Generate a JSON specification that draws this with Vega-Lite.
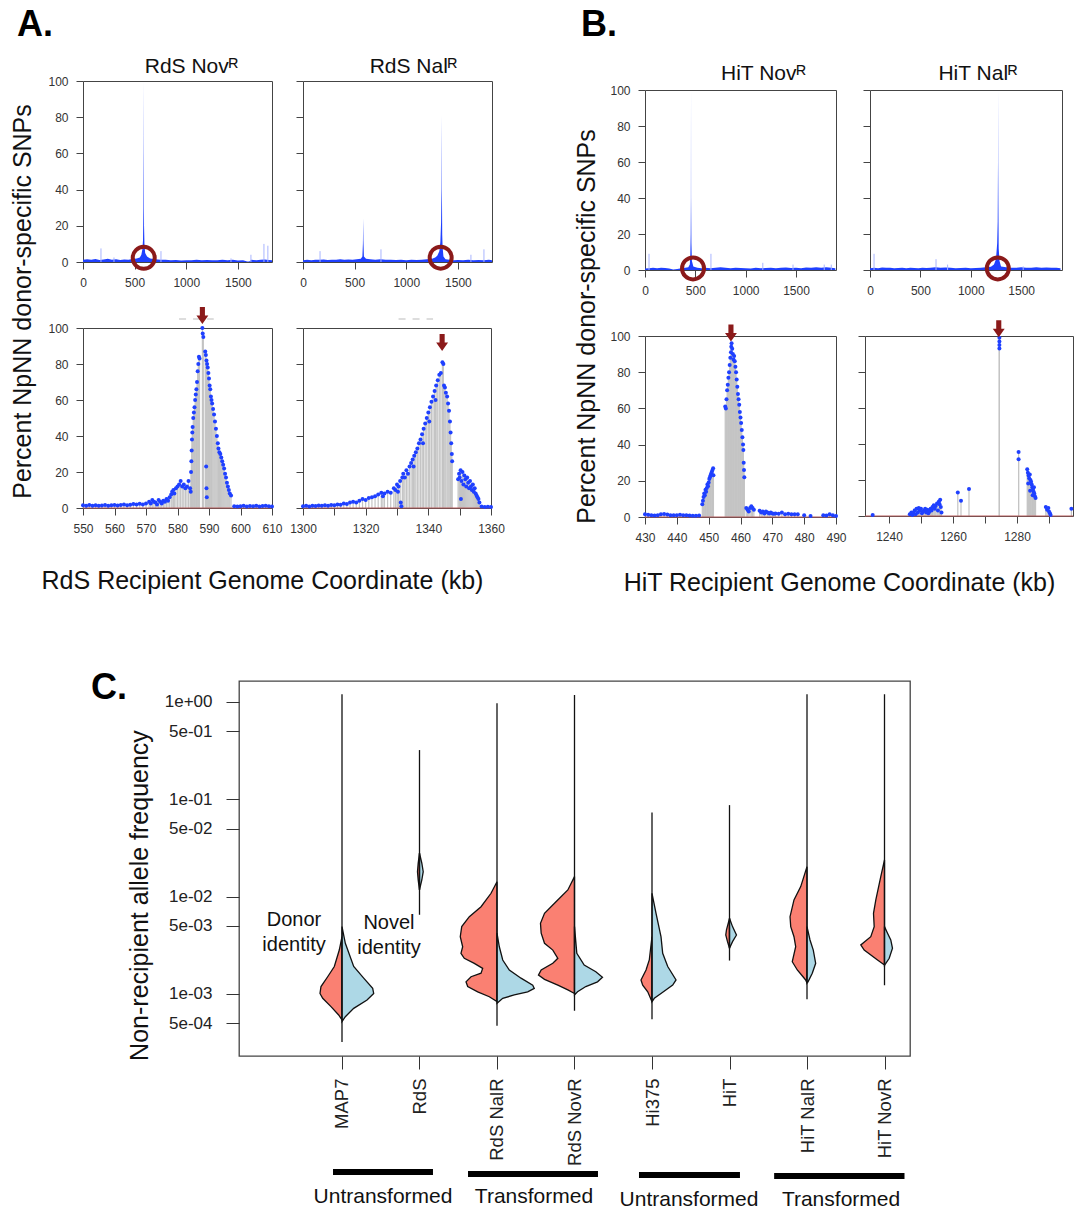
{
"$schema":"https://vega.github.io/schema/vega-lite/v6.json",
"background":"white",
"padding":{"left":9,"top":7,"right":0,"bottom":0},
"autosize":{"type":"pad"},
"config":{
 "font":"Liberation Sans",
 "view":{"stroke":"#444444","strokeWidth":1},
 "axis":{"grid":false,"domain":false,"ticks":true,"tickColor":"#444444","tickSize":7,"tickWidth":1,"labelPadding":8,"labelFontSize":12,"labelColor":"#333333","labelFont":"Liberation Sans","titleFont":"Liberation Sans","titleFontWeight":"normal","titleColor":"#111111","labelFlush":false,"labelOverlap":false,"format":"d"},
 "title":{"font":"Liberation Sans","fontWeight":"normal","fontSize":21,"color":"#111111","baseline":"alphabetic"}
},
"datasets":{
 "ovA1":[{"k":0,"v":1.2},{"k":40,"v":1.5},{"k":80,"v":1.3},{"k":120,"v":1.6},{"k":160,"v":1.1},{"k":200,"v":1.4},{"k":240,"v":1.8},{"k":280,"v":1.2},{"k":320,"v":1.5},{"k":360,"v":1.1},{"k":400,"v":1.4},{"k":440,"v":1.2},{"k":480,"v":1.6},{"k":520,"v":2.0},{"k":550,"v":2.5},{"k":565,"v":4},{"k":575,"v":7},{"k":581,"v":12},{"k":585,"v":30},{"k":587,"v":70},{"k":588,"v":100},{"k":589,"v":60},{"k":591,"v":20},{"k":595,"v":10},{"k":602,"v":5},{"k":620,"v":3},{"k":650,"v":2},{"k":700,"v":1.5},{"k":750,"v":1.3},{"k":800,"v":1.2},{"k":850,"v":1.0},{"k":900,"v":1.1},{"k":950,"v":0.8},{"k":1000,"v":1.0},{"k":1050,"v":0.9},{"k":1100,"v":1.2},{"k":1150,"v":1.0},{"k":1200,"v":1.1},{"k":1250,"v":0.9},{"k":1300,"v":1.0},{"k":1350,"v":1.2},{"k":1400,"v":1.0},{"k":1450,"v":1.3},{"k":1500,"v":0.8},{"k":1550,"v":1.0},{"k":1590,"v":0.3},{"k":1610,"v":0.3},{"k":1630,"v":1.2},{"k":1680,"v":1.0},{"k":1720,"v":1.2},{"k":1760,"v":1.4},{"k":1800,"v":1.1},{"k":1830,"v":1.0}],
 "spA1":[{"k":174,"v":7.5},{"k":300,"v":2.5},{"k":755,"v":6},{"k":1433,"v":2},{"k":1626,"v":4},{"k":1752,"v":10},{"k":1790,"v":9}],
 "ovA2":[{"k":0,"v":1.0},{"k":40,"v":1.2},{"k":80,"v":1.0},{"k":120,"v":1.3},{"k":160,"v":1.2},{"k":200,"v":1.4},{"k":240,"v":1.1},{"k":280,"v":1.3},{"k":320,"v":1.2},{"k":360,"v":1.5},{"k":400,"v":1.2},{"k":440,"v":1.4},{"k":480,"v":1.3},{"k":520,"v":1.5},{"k":560,"v":1.8},{"k":575,"v":3},{"k":580,"v":10},{"k":583,"v":24},{"k":585,"v":12},{"k":590,"v":3},{"k":610,"v":1.8},{"k":650,"v":1.5},{"k":700,"v":1.3},{"k":750,"v":1.5},{"k":800,"v":1.2},{"k":850,"v":1.3},{"k":900,"v":1.1},{"k":950,"v":1.2},{"k":1000,"v":1.0},{"k":1050,"v":1.2},{"k":1100,"v":1.1},{"k":1150,"v":1.3},{"k":1200,"v":1.5},{"k":1250,"v":1.8},{"k":1280,"v":2.5},{"k":1300,"v":3.5},{"k":1320,"v":6},{"k":1330,"v":11},{"k":1337,"v":22},{"k":1341,"v":40},{"k":1343,"v":81},{"k":1345,"v":40},{"k":1348,"v":15},{"k":1352,"v":8},{"k":1360,"v":3},{"k":1380,"v":1.5},{"k":1420,"v":1.2},{"k":1460,"v":1.0},{"k":1500,"v":1.1},{"k":1550,"v":1.0},{"k":1600,"v":1.2},{"k":1650,"v":1.0},{"k":1700,"v":1.1},{"k":1750,"v":1.0},{"k":1800,"v":1.2},{"k":1830,"v":1.0}],
 "spA2":[{"k":165,"v":6},{"k":755,"v":7},{"k":1626,"v":4},{"k":1752,"v":7}],
 "ovB1":[{"k":0,"v":0.8},{"k":40,"v":1.0},{"k":80,"v":1.2},{"k":120,"v":1.0},{"k":160,"v":1.3},{"k":200,"v":1.1},{"k":240,"v":0.8},{"k":280,"v":0.3},{"k":320,"v":0.5},{"k":360,"v":1.0},{"k":400,"v":1.2},{"k":430,"v":1.5},{"k":445,"v":3},{"k":450,"v":8},{"k":454,"v":20},{"k":456,"v":40},{"k":457,"v":100},{"k":458,"v":40},{"k":461,"v":15},{"k":466,"v":5},{"k":480,"v":2},{"k":520,"v":1.3},{"k":560,"v":1.0},{"k":600,"v":1.2},{"k":650,"v":1.0},{"k":700,"v":1.3},{"k":750,"v":1.5},{"k":800,"v":1.2},{"k":850,"v":1.0},{"k":900,"v":1.3},{"k":950,"v":1.1},{"k":1000,"v":1.0},{"k":1050,"v":0.8},{"k":1100,"v":1.2},{"k":1150,"v":1.0},{"k":1200,"v":1.1},{"k":1250,"v":1.3},{"k":1300,"v":1.0},{"k":1350,"v":1.2},{"k":1400,"v":1.4},{"k":1450,"v":1.1},{"k":1500,"v":1.3},{"k":1550,"v":1.0},{"k":1600,"v":1.4},{"k":1650,"v":1.2},{"k":1700,"v":1.5},{"k":1750,"v":1.3},{"k":1800,"v":1.5},{"k":1850,"v":1.2},{"k":1890,"v":1.0}],
 "spB1":[{"k":40,"v":9},{"k":655,"v":9},{"k":1170,"v":4},{"k":1470,"v":3},{"k":1780,"v":3},{"k":1850,"v":3}],
 "ovB2":[{"k":0,"v":1.0},{"k":40,"v":1.2},{"k":80,"v":1.0},{"k":120,"v":1.4},{"k":160,"v":1.2},{"k":200,"v":1.3},{"k":240,"v":1.0},{"k":280,"v":1.1},{"k":320,"v":1.3},{"k":360,"v":1.0},{"k":400,"v":1.2},{"k":440,"v":1.1},{"k":480,"v":1.0},{"k":520,"v":1.2},{"k":560,"v":1.1},{"k":600,"v":1.3},{"k":650,"v":1.5},{"k":700,"v":1.2},{"k":750,"v":1.4},{"k":800,"v":1.2},{"k":850,"v":1.0},{"k":900,"v":1.1},{"k":950,"v":1.2},{"k":1000,"v":1.0},{"k":1050,"v":1.1},{"k":1100,"v":1.3},{"k":1150,"v":1.5},{"k":1200,"v":1.8},{"k":1230,"v":3},{"k":1250,"v":6},{"k":1262,"v":15},{"k":1267,"v":27},{"k":1270,"v":60},{"k":1271,"v":100},{"k":1272,"v":60},{"k":1274,"v":37},{"k":1277,"v":12},{"k":1285,"v":5},{"k":1300,"v":2},{"k":1350,"v":1.5},{"k":1400,"v":1.3},{"k":1450,"v":1.2},{"k":1500,"v":1.5},{"k":1550,"v":1.3},{"k":1600,"v":1.2},{"k":1650,"v":1.5},{"k":1700,"v":1.3},{"k":1750,"v":1.4},{"k":1800,"v":1.2},{"k":1850,"v":1.3},{"k":1890,"v":1.0}],
 "spB2":[{"k":40,"v":9},{"k":655,"v":6},{"k":770,"v":3},{"k":1150,"v":3},{"k":1520,"v":2}],
 "zA1":[{"k":550,"v":1.5},{"k":551,"v":1.2},{"k":552,"v":1.6},{"k":553,"v":1.3},{"k":554,"v":1.5},{"k":555,"v":1.2},{"k":556,"v":1.4},{"k":557,"v":1.6},{"k":558,"v":1.3},{"k":559,"v":1.5},{"k":560,"v":1.7},{"k":561,"v":1.4},{"k":562,"v":1.6},{"k":563,"v":2.0},{"k":564,"v":1.5},{"k":565,"v":1.8},{"k":566,"v":2.2},{"k":567,"v":1.9},{"k":568,"v":2.3},{"k":569,"v":2.0},{"k":570,"v":2.5},{"k":571,"v":3.5},{"k":571.5,"v":2.5},{"k":572,"v":4.5},{"k":572.5,"v":3.5},{"k":573,"v":3},{"k":573.5,"v":2},{"k":574,"v":4.5},{"k":574.5,"v":3.5},{"k":575,"v":2.5},{"k":575.5,"v":4},{"k":576,"v":3.5},{"k":576.5,"v":5},{"k":577,"v":4},{"k":577.5,"v":6},{"k":578,"v":7.5},{"k":578.3,"v":9},{"k":578.7,"v":10},{"k":579,"v":8},{"k":579.5,"v":11},{"k":580,"v":12},{"k":580.5,"v":13},{"k":581,"v":15},{"k":581.5,"v":12},{"k":582,"v":13},{"k":582.5,"v":11},{"k":583,"v":12},{"k":583.5,"v":15},{"k":584,"v":11},{"k":584.2,"v":9},{"k":584.3,"v":20},{"k":584.4,"v":26},{"k":584.5,"v":32},{"k":584.6,"v":38},{"k":584.7,"v":42},{"k":584.8,"v":45},{"k":585,"v":50},{"k":585.2,"v":53},{"k":585.4,"v":56},{"k":585.6,"v":60},{"k":585.8,"v":63},{"k":586,"v":66},{"k":586.2,"v":70},{"k":586.4,"v":76},{"k":586.6,"v":80},{"k":586.8,"v":84},{"k":587,"v":83},{"k":587.9,"v":100},{"k":588,"v":97},{"k":588.2,"v":95},{"k":588.8,"v":87},{"k":589,"v":85},{"k":589.2,"v":82},{"k":589.4,"v":80},{"k":589.6,"v":78},{"k":589.8,"v":75},{"k":590,"v":72},{"k":590.2,"v":68},{"k":590.4,"v":66},{"k":590.6,"v":62},{"k":590.8,"v":60},{"k":591,"v":58},{"k":591.3,"v":55},{"k":591.6,"v":52},{"k":591.9,"v":48},{"k":592.2,"v":44},{"k":592.5,"v":40},{"k":592.8,"v":36},{"k":593,"v":33},{"k":593.3,"v":31},{"k":593.6,"v":30},{"k":593.9,"v":28},{"k":594.2,"v":26},{"k":594.5,"v":24},{"k":594.8,"v":22},{"k":595.1,"v":19},{"k":595.4,"v":17},{"k":595.7,"v":14},{"k":596,"v":12},{"k":596.3,"v":10},{"k":596.6,"v":8},{"k":597,"v":7},{"k":589.1,"v":23},{"k":589.2,"v":11},{"k":589.3,"v":6},{"k":598,"v":1.0},{"k":599,"v":0.8},{"k":600,"v":1.0},{"k":601,"v":1.2},{"k":602,"v":0.9},{"k":603,"v":1.1},{"k":604,"v":1.0},{"k":605,"v":1.2},{"k":606,"v":0.9},{"k":607,"v":1.1},{"k":608,"v":1.3},{"k":609,"v":1.0},{"k":610,"v":0.8}],
 "zA2":[{"k":1300,"v":1.0},{"k":1301,"v":1.2},{"k":1302,"v":0.9},{"k":1303,"v":1.3},{"k":1304,"v":1.1},{"k":1305,"v":1.4},{"k":1306,"v":1.2},{"k":1307,"v":1.5},{"k":1308,"v":1.3},{"k":1309,"v":1.7},{"k":1310,"v":1.5},{"k":1311,"v":2.0},{"k":1312,"v":1.8},{"k":1313,"v":2.5},{"k":1314,"v":2.2},{"k":1315,"v":3.0},{"k":1316,"v":3.5},{"k":1317,"v":3.0},{"k":1318,"v":4.0},{"k":1319,"v":5.0},{"k":1320,"v":4.5},{"k":1321,"v":5.5},{"k":1322,"v":6.0},{"k":1323,"v":6.5},{"k":1324,"v":7.5},{"k":1325,"v":8.5},{"k":1325.5,"v":6.5},{"k":1326,"v":8.0},{"k":1327,"v":9.0},{"k":1328,"v":8.5},{"k":1329,"v":11},{"k":1329.5,"v":10},{"k":1330,"v":13},{"k":1330.3,"v":9},{"k":1330.5,"v":12},{"k":1331,"v":15},{"k":1331.2,"v":3},{"k":1331.4,"v":1},{"k":1331.7,"v":17},{"k":1332,"v":19},{"k":1332.5,"v":17},{"k":1333,"v":21},{"k":1333.5,"v":19},{"k":1334,"v":23},{"k":1334.5,"v":25},{"k":1335,"v":27},{"k":1335.3,"v":23},{"k":1335.5,"v":29},{"k":1336,"v":31},{"k":1336.5,"v":33},{"k":1337,"v":36},{"k":1337.5,"v":38},{"k":1338,"v":41},{"k":1338.3,"v":36},{"k":1338.5,"v":44},{"k":1339,"v":47},{"k":1339.5,"v":50},{"k":1340,"v":53},{"k":1340.3,"v":48},{"k":1340.5,"v":56},{"k":1341,"v":59},{"k":1341.5,"v":62},{"k":1342,"v":65},{"k":1342.3,"v":60},{"k":1342.5,"v":68},{"k":1343,"v":71},{"k":1343.5,"v":74},{"k":1344,"v":75},{"k":1344.5,"v":81},{"k":1344.8,"v":80},{"k":1345,"v":68},{"k":1345.3,"v":67},{"k":1345.6,"v":64},{"k":1346,"v":62},{"k":1346.3,"v":58},{"k":1346.6,"v":54},{"k":1346.9,"v":48},{"k":1347.1,"v":42},{"k":1347.3,"v":36},{"k":1347.5,"v":30},{"k":1347.6,"v":26},{"k":1349.5,"v":16},{"k":1349.8,"v":19},{"k":1350,"v":17},{"k":1350.3,"v":21},{"k":1350.4,"v":5},{"k":1350.6,"v":15},{"k":1350.9,"v":20},{"k":1351.2,"v":13},{"k":1351.5,"v":18},{"k":1351.8,"v":16},{"k":1352.1,"v":12},{"k":1352.4,"v":17},{"k":1352.7,"v":14},{"k":1353,"v":11},{"k":1353.3,"v":15},{"k":1353.6,"v":12},{"k":1353.9,"v":10},{"k":1354.2,"v":13},{"k":1354.5,"v":9},{"k":1354.8,"v":11},{"k":1355.1,"v":8},{"k":1355.4,"v":7},{"k":1355.7,"v":6},{"k":1356,"v":5},{"k":1356.3,"v":3},{"k":1357,"v":0.8},{"k":1358,"v":0.6},{"k":1359,"v":0.7},{"k":1360,"v":0.5}],
 "zB1":[{"k":430,"v":1.5},{"k":431,"v":1.2},{"k":432,"v":1.0},{"k":433,"v":0.8},{"k":434,"v":1.0},{"k":435,"v":1.5},{"k":436,"v":1.6},{"k":437,"v":1.4},{"k":438,"v":1.0},{"k":439,"v":0.9},{"k":440,"v":1.0},{"k":441,"v":1.2},{"k":442,"v":1.0},{"k":443,"v":0.9},{"k":444,"v":0.8},{"k":445,"v":0.7},{"k":446,"v":0.7},{"k":447,"v":0.8},{"k":448,"v":7},{"k":448.2,"v":9},{"k":448.4,"v":11},{"k":448.6,"v":13},{"k":448.8,"v":12},{"k":449,"v":15},{"k":449.2,"v":14},{"k":449.4,"v":16},{"k":449.6,"v":18},{"k":449.8,"v":17},{"k":450,"v":19},{"k":450.2,"v":21},{"k":450.4,"v":22},{"k":450.6,"v":23},{"k":450.8,"v":24},{"k":451,"v":25},{"k":451.2,"v":26},{"k":451.4,"v":27},{"k":451.5,"v":23},{"k":455.2,"v":61},{"k":455.4,"v":60},{"k":455.6,"v":65},{"k":455.8,"v":70},{"k":456,"v":73},{"k":456.2,"v":77},{"k":456.4,"v":80},{"k":456.6,"v":84},{"k":456.8,"v":88},{"k":457,"v":91},{"k":457.1,"v":94},{"k":457.2,"v":96},{"k":457.4,"v":93},{"k":457.6,"v":90},{"k":457.8,"v":87},{"k":458,"v":89},{"k":458.2,"v":86},{"k":458.4,"v":83},{"k":458.6,"v":80},{"k":458.8,"v":76},{"k":459,"v":72},{"k":459.2,"v":68},{"k":459.4,"v":65},{"k":459.6,"v":62},{"k":459.8,"v":58},{"k":460,"v":55},{"k":460.2,"v":52},{"k":460.4,"v":48},{"k":460.6,"v":44},{"k":460.8,"v":40},{"k":460.9,"v":37},{"k":461,"v":30},{"k":461.1,"v":26},{"k":461.2,"v":22},{"k":461.8,"v":5},{"k":462.2,"v":4},{"k":462.6,"v":3},{"k":463,"v":5},{"k":463.4,"v":6},{"k":463.8,"v":5},{"k":464.2,"v":4},{"k":466,"v":3.5},{"k":466.5,"v":2.5},{"k":467,"v":3},{"k":467.5,"v":2},{"k":468,"v":3},{"k":468.5,"v":2.5},{"k":469,"v":2},{"k":469.5,"v":2.5},{"k":470,"v":2},{"k":470.5,"v":1.8},{"k":471,"v":2},{"k":472,"v":1.8},{"k":473,"v":2.5},{"k":474,"v":1.5},{"k":475,"v":1.8},{"k":476,"v":1.5},{"k":477,"v":1.5},{"k":478,"v":1.5},{"k":480,"v":1.0},{"k":482,"v":0.5},{"k":486,"v":1.0},{"k":487,"v":0.8},{"k":488,"v":1.5},{"k":489,"v":1.0},{"k":490,"v":0.5}],
 "zB2":[{"k":1234.9,"v":0.5},{"k":1246.5,"v":1},{"k":1247,"v":2},{"k":1247.3,"v":0.5},{"k":1247.6,"v":1.5},{"k":1248,"v":3},{"k":1248.3,"v":1},{"k":1248.6,"v":4},{"k":1249,"v":2},{"k":1249.3,"v":4.5},{"k":1249.6,"v":3},{"k":1250,"v":4},{"k":1250.3,"v":1.5},{"k":1250.6,"v":2.5},{"k":1251,"v":3},{"k":1251.3,"v":4},{"k":1251.6,"v":2},{"k":1252,"v":3.5},{"k":1252.3,"v":1.5},{"k":1252.6,"v":2.5},{"k":1253,"v":4},{"k":1253.3,"v":3},{"k":1253.6,"v":5},{"k":1254,"v":6},{"k":1254.3,"v":4},{"k":1254.6,"v":5.5},{"k":1255,"v":7},{"k":1255.3,"v":3},{"k":1255.6,"v":8},{"k":1255.8,"v":6.5},{"k":1256,"v":9},{"k":1256.2,"v":5},{"k":1256.4,"v":2},{"k":1261.5,"v":13},{"k":1262.5,"v":8.5},{"k":1265,"v":15},{"k":1274.5,"v":99},{"k":1274.5,"v":97},{"k":1274.5,"v":95},{"k":1274.5,"v":93},{"k":1280.5,"v":35.5},{"k":1280.5,"v":31.5},{"k":1283.2,"v":26},{"k":1283.4,"v":24},{"k":1283.5,"v":18},{"k":1283.6,"v":22.5},{"k":1283.8,"v":21},{"k":1284,"v":23},{"k":1284.1,"v":14},{"k":1284.2,"v":20},{"k":1284.4,"v":19},{"k":1284.6,"v":17.5},{"k":1284.8,"v":16},{"k":1284.9,"v":11.5},{"k":1285,"v":15},{"k":1285.2,"v":13.5},{"k":1285.3,"v":16},{"k":1285.4,"v":12.5},{"k":1285.6,"v":11},{"k":1285.8,"v":10},{"k":1289,"v":5},{"k":1289.4,"v":3.5},{"k":1289.8,"v":4.5},{"k":1290,"v":2.5},{"k":1290.3,"v":1.5},{"k":1290.5,"v":0.5},{"k":1297,"v":4}],
 "vio":[
  {"g":"MAP7","s":"d","c":1,"f":0.00387,"x":1.000},{"g":"MAP7","s":"d","c":1,"f":0.00282,"x":0.965},{"g":"MAP7","s":"d","c":1,"f":0.00191,"x":0.901},{"g":"MAP7","s":"d","c":1,"f":0.00150,"x":0.815},{"g":"MAP7","s":"d","c":1,"f":0.00119,"x":0.729},{"g":"MAP7","s":"d","c":1,"f":0.00101,"x":0.716},{"g":"MAP7","s":"d","c":1,"f":0.000900,"x":0.751},{"g":"MAP7","s":"d","c":1,"f":0.000740,"x":0.858},{"g":"MAP7","s":"d","c":1,"f":0.000607,"x":0.957},{"g":"MAP7","s":"d","c":1,"f":0.000540,"x":1.000},
  {"g":"MAP7","s":"n","c":1,"f":0.00491,"x":1.000},{"g":"MAP7","s":"n","c":1,"f":0.00331,"x":1.043},{"g":"MAP7","s":"n","c":1,"f":0.00191,"x":1.151},{"g":"MAP7","s":"n","c":1,"f":0.00145,"x":1.280},{"g":"MAP7","s":"n","c":1,"f":0.00114,"x":1.396},{"g":"MAP7","s":"n","c":1,"f":0.00101,"x":1.409},{"g":"MAP7","s":"n","c":1,"f":0.000865,"x":1.323},{"g":"MAP7","s":"n","c":1,"f":0.000710,"x":1.151},{"g":"MAP7","s":"n","c":1,"f":0.000583,"x":1.043},{"g":"MAP7","s":"n","c":1,"f":0.000518,"x":1.000},
  {"g":"RdS","s":"d","c":2,"f":0.0279,"x":2.0},{"g":"RdS","s":"d","c":2,"f":0.0220,"x":1.983},{"g":"RdS","s":"d","c":2,"f":0.0180,"x":1.974},{"g":"RdS","s":"d","c":2,"f":0.0148,"x":1.983},{"g":"RdS","s":"d","c":2,"f":0.0117,"x":2.0},
  {"g":"RdS","s":"n","c":2,"f":0.0279,"x":2.0},{"g":"RdS","s":"n","c":2,"f":0.0220,"x":2.030},{"g":"RdS","s":"n","c":2,"f":0.0180,"x":2.048},{"g":"RdS","s":"n","c":2,"f":0.0148,"x":2.030},{"g":"RdS","s":"n","c":2,"f":0.0117,"x":2.0},
  {"g":"RdS NalR","s":"d","c":3,"f":0.01422,"x":3.0},{"g":"RdS NalR","s":"d","c":3,"f":0.01081,"x":2.923},{"g":"RdS NalR","s":"d","c":3,"f":0.00787,"x":2.794},{"g":"RdS NalR","s":"d","c":3,"f":0.00621,"x":2.643},{"g":"RdS NalR","s":"d","c":3,"f":0.00491,"x":2.545},{"g":"RdS NalR","s":"d","c":3,"f":0.00387,"x":2.526},{"g":"RdS NalR","s":"d","c":3,"f":0.00305,"x":2.557},{"g":"RdS NalR","s":"d","c":3,"f":0.00261,"x":2.535},{"g":"RdS NalR","s":"d","c":3,"f":0.00232,"x":2.578},{"g":"RdS NalR","s":"d","c":3,"f":0.00206,"x":2.707},{"g":"RdS NalR","s":"d","c":3,"f":0.00183,"x":2.815},{"g":"RdS NalR","s":"d","c":3,"f":0.00163,"x":2.794},{"g":"RdS NalR","s":"d","c":3,"f":0.00150,"x":2.665},{"g":"RdS NalR","s":"d","c":3,"f":0.00133,"x":2.600},{"g":"RdS NalR","s":"d","c":3,"f":0.00119,"x":2.622},{"g":"RdS NalR","s":"d","c":3,"f":0.00105,"x":2.751},{"g":"RdS NalR","s":"d","c":3,"f":0.000935,"x":2.901},{"g":"RdS NalR","s":"d","c":3,"f":0.000832,"x":3.0},
  {"g":"RdS NalR","s":"n","c":3,"f":0.00420,"x":3.0},{"g":"RdS NalR","s":"n","c":3,"f":0.00305,"x":3.030},{"g":"RdS NalR","s":"n","c":3,"f":0.00223,"x":3.074},{"g":"RdS NalR","s":"n","c":3,"f":0.00176,"x":3.159},{"g":"RdS NalR","s":"n","c":3,"f":0.00145,"x":3.310},{"g":"RdS NalR","s":"n","c":3,"f":0.00123,"x":3.461},{"g":"RdS NalR","s":"n","c":3,"f":0.00114,"x":3.481},{"g":"RdS NalR","s":"n","c":3,"f":0.00105,"x":3.396},{"g":"RdS NalR","s":"n","c":3,"f":0.000975,"x":3.223},{"g":"RdS NalR","s":"n","c":3,"f":0.000900,"x":3.074},{"g":"RdS NalR","s":"n","c":3,"f":0.000800,"x":3.0},
  {"g":"RdS NovR","s":"d","c":4,"f":0.01603,"x":4.0},{"g":"RdS NovR","s":"d","c":4,"f":0.01169,"x":3.914},{"g":"RdS NovR","s":"d","c":4,"f":0.00853,"x":3.742},{"g":"RdS NovR","s":"d","c":4,"f":0.00673,"x":3.613},{"g":"RdS NovR","s":"d","c":4,"f":0.00532,"x":3.561},{"g":"RdS NovR","s":"d","c":4,"f":0.00420,"x":3.570},{"g":"RdS NovR","s":"d","c":4,"f":0.00331,"x":3.613},{"g":"RdS NovR","s":"d","c":4,"f":0.00282,"x":3.720},{"g":"RdS NovR","s":"d","c":4,"f":0.00232,"x":3.785},{"g":"RdS NovR","s":"d","c":4,"f":0.00206,"x":3.720},{"g":"RdS NovR","s":"d","c":4,"f":0.00176,"x":3.570},{"g":"RdS NovR","s":"d","c":4,"f":0.00156,"x":3.535},{"g":"RdS NovR","s":"d","c":4,"f":0.00141,"x":3.613},{"g":"RdS NovR","s":"d","c":4,"f":0.00123,"x":3.785},{"g":"RdS NovR","s":"d","c":4,"f":0.00110,"x":3.914},{"g":"RdS NovR","s":"d","c":4,"f":0.00101,"x":4.0},
  {"g":"RdS NovR","s":"n","c":4,"f":0.00491,"x":4.0},{"g":"RdS NovR","s":"n","c":4,"f":0.00261,"x":4.030},{"g":"RdS NovR","s":"n","c":4,"f":0.00198,"x":4.125},{"g":"RdS NovR","s":"n","c":4,"f":0.00169,"x":4.275},{"g":"RdS NovR","s":"n","c":4,"f":0.00148,"x":4.361},{"g":"RdS NovR","s":"n","c":4,"f":0.00133,"x":4.297},{"g":"RdS NovR","s":"n","c":4,"f":0.00119,"x":4.146},{"g":"RdS NovR","s":"n","c":4,"f":0.00105,"x":4.039},{"g":"RdS NovR","s":"n","c":4,"f":0.000975,"x":4.0},
  {"g":"Hi375","s":"d","c":5,"f":0.00387,"x":5.0},{"g":"Hi375","s":"d","c":5,"f":0.00223,"x":4.965},{"g":"Hi375","s":"d","c":5,"f":0.00176,"x":4.923},{"g":"Hi375","s":"d","c":5,"f":0.00139,"x":4.858},{"g":"Hi375","s":"d","c":5,"f":0.00123,"x":4.880},{"g":"Hi375","s":"d","c":5,"f":0.00105,"x":4.945},{"g":"Hi375","s":"d","c":5,"f":0.000832,"x":5.0},
  {"g":"Hi375","s":"n","c":5,"f":0.01081,"x":5.0},{"g":"Hi375","s":"n","c":5,"f":0.00673,"x":5.052},{"g":"Hi375","s":"n","c":5,"f":0.00387,"x":5.116},{"g":"Hi375","s":"n","c":5,"f":0.00261,"x":5.138},{"g":"Hi375","s":"n","c":5,"f":0.00191,"x":5.203},{"g":"Hi375","s":"n","c":5,"f":0.00139,"x":5.310},{"g":"Hi375","s":"n","c":5,"f":0.00123,"x":5.267},{"g":"Hi375","s":"n","c":5,"f":0.00101,"x":5.116},{"g":"Hi375","s":"n","c":5,"f":0.000900,"x":5.030},{"g":"Hi375","s":"n","c":5,"f":0.000832,"x":5.0},
  {"g":"HiT","s":"d","c":6,"f":0.00598,"x":6.0},{"g":"HiT","s":"d","c":6,"f":0.00454,"x":5.961},{"g":"HiT","s":"d","c":6,"f":0.00403,"x":5.952},{"g":"HiT","s":"d","c":6,"f":0.00344,"x":5.974},{"g":"HiT","s":"d","c":6,"f":0.00294,"x":6.0},
  {"g":"HiT","s":"n","c":6,"f":0.00598,"x":6.0},{"g":"HiT","s":"n","c":6,"f":0.00491,"x":6.039},{"g":"HiT","s":"n","c":6,"f":0.00403,"x":6.090},{"g":"HiT","s":"n","c":6,"f":0.00344,"x":6.039},{"g":"HiT","s":"n","c":6,"f":0.00294,"x":6.0},
  {"g":"HiT NalR","s":"d","c":7,"f":0.0203,"x":7.0},{"g":"HiT NalR","s":"d","c":7,"f":0.01265,"x":6.919},{"g":"HiT NalR","s":"d","c":7,"f":0.00923,"x":6.832},{"g":"HiT NalR","s":"d","c":7,"f":0.00621,"x":6.781},{"g":"HiT NalR","s":"d","c":7,"f":0.00491,"x":6.790},{"g":"HiT NalR","s":"d","c":7,"f":0.00387,"x":6.832},{"g":"HiT NalR","s":"d","c":7,"f":0.00305,"x":6.854},{"g":"HiT NalR","s":"d","c":7,"f":0.00214,"x":6.810},{"g":"HiT NalR","s":"d","c":7,"f":0.00176,"x":6.875},{"g":"HiT NalR","s":"d","c":7,"f":0.00139,"x":6.983},{"g":"HiT NalR","s":"d","c":7,"f":0.00129,"x":7.0},
  {"g":"HiT NalR","s":"n","c":7,"f":0.00491,"x":7.0},{"g":"HiT NalR","s":"n","c":7,"f":0.00358,"x":7.039},{"g":"HiT NalR","s":"n","c":7,"f":0.00282,"x":7.081},{"g":"HiT NalR","s":"n","c":7,"f":0.00206,"x":7.112},{"g":"HiT NalR","s":"n","c":7,"f":0.00163,"x":7.068},{"g":"HiT NalR","s":"n","c":7,"f":0.00133,"x":7.013},{"g":"HiT NalR","s":"n","c":7,"f":0.00129,"x":7.0},
  {"g":"HiT NovR","s":"d","c":8,"f":0.0238,"x":8.0},{"g":"HiT NovR","s":"d","c":8,"f":0.01603,"x":7.952},{"g":"HiT NovR","s":"d","c":8,"f":0.00923,"x":7.888},{"g":"HiT NovR","s":"d","c":8,"f":0.00673,"x":7.858},{"g":"HiT NovR","s":"d","c":8,"f":0.00491,"x":7.867},{"g":"HiT NovR","s":"d","c":8,"f":0.00387,"x":7.823},{"g":"HiT NovR","s":"d","c":8,"f":0.00318,"x":7.694},{"g":"HiT NovR","s":"d","c":8,"f":0.00282,"x":7.738},{"g":"HiT NovR","s":"d","c":8,"f":0.00223,"x":7.910},{"g":"HiT NovR","s":"d","c":8,"f":0.00198,"x":8.0},
  {"g":"HiT NovR","s":"n","c":8,"f":0.00491,"x":8.0},{"g":"HiT NovR","s":"n","c":8,"f":0.00420,"x":8.039},{"g":"HiT NovR","s":"n","c":8,"f":0.00358,"x":8.081},{"g":"HiT NovR","s":"n","c":8,"f":0.00294,"x":8.103},{"g":"HiT NovR","s":"n","c":8,"f":0.00232,"x":8.061},{"g":"HiT NovR","s":"n","c":8,"f":0.00206,"x":8.017},{"g":"HiT NovR","s":"n","c":8,"f":0.00198,"x":8.0}
 ],
 "tails":[{"c":1,"lo":0.00032,"hi":1.2},{"c":2,"lo":0.0065,"hi":0.32},{"c":3,"lo":0.00047,"hi":0.97},{"c":4,"lo":0.00067,"hi":1.18},{"c":5,"lo":0.00055,"hi":0.073},{"c":6,"lo":0.0022,"hi":0.087},{"c":7,"lo":0.00088,"hi":1.2},{"c":8,"lo":0.00123,"hi":1.2}],
 "gbars":[{"a":0.884,"b":2.174,"y":0.825},{"a":2.626,"b":4.303,"y":0.775},{"a":4.832,"b":6.135,"y":0.75},{"a":6.576,"b":8.258,"y":0.725}],
 "glabels":[{"x":1.529,"y":0.05,"t":"Untransformed"},{"x":3.477,"y":0.05,"t":"Transformed"},{"x":5.477,"y":-0.025,"t":"Untransformed"},{"x":7.439,"y":-0.025,"t":"Transformed"}]
},
"vconcat":[
 {"hconcat":[
  {"vconcat":[
    {"width":1,"height":1,"data":{"values":[]},"mark":"point","view":{"stroke":null},"title":{"text":"A.","anchor":"start","frame":"group","fontSize":36,"fontWeight":"bold","color":"#000000","dx":-66,"offset":36}},
    {"vconcat":[
      {"hconcat":[
       {"width":189,"height":181,"title":{"text":"RdS Novᴿ","offset":-2,"dx":14},
        "encoding":{"x":{"field":"k","type":"quantitative","title":null,"scale":{"domain":[0,1830],"nice":false,"zero":false},"axis":{"values":[0,500,1000,1500]}},
                    "y":{"field":"v","type":"quantitative","scale":{"domain":[0,100],"nice":false},"axis":{"values":[0,20,40,60,80,100],"title":"Percent NpNN donor-specific SNPs","titleFontSize":25,"titleX":-53,"titleY":220,"titleAngle":270,"titleAlign":"center","titleBaseline":"alphabetic"}}},
        "layer":[
         {"data":{"name":"ovA1"},"mark":{"type":"area","color":"#1f40ff"}},
         {"data":{"name":"spA1"},"mark":{"type":"rule","color":"#a8b4ff"},"encoding":{"y2":{"datum":0}}},
         {"data":{"values":[{"k":588,"v":2.3}]},"mark":{"type":"point","shape":"circle","size":484,"filled":false,"stroke":"#8b1a1a","strokeWidth":4,"opacity":1}}
        ]},
       {"width":189,"height":181,"title":{"text":"RdS Nalᴿ","offset":4,"dx":16},
        "encoding":{"x":{"field":"k","type":"quantitative","title":null,"scale":{"domain":[0,1830],"nice":false,"zero":false},"axis":{"values":[0,500,1000,1500]}},
                    "y":{"field":"v","type":"quantitative","title":null,"scale":{"domain":[0,100],"nice":false},"axis":{"values":[0,20,40,60,80,100],"labels":false}}},
        "layer":[
         {"data":{"name":"ovA2"},"mark":{"type":"area","color":"#1f40ff"}},
         {"data":{"name":"spA2"},"mark":{"type":"rule","color":"#a8b4ff"},"encoding":{"y2":{"datum":0}}},
         {"data":{"values":[{"k":1333,"v":2.4}]},"mark":{"type":"point","shape":"circle","size":484,"filled":false,"stroke":"#8b1a1a","strokeWidth":4,"opacity":1}}
        ]}
      ],"spacing":31,"bounds":"flush"},
      {"hconcat":[
       {"width":189,"height":180,
        "encoding":{"x":{"field":"k","type":"quantitative","scale":{"domain":[550,610],"nice":false,"zero":false},"axis":{"values":[550,560,570,580,590,600,610],"title":"RdS Recipient Genome Coordinate (kb)","titleFontSize":25,"titleX":179,"titleY":80,"titleAlign":"center","titleBaseline":"alphabetic"}},
                    "y":{"field":"v","type":"quantitative","title":null,"scale":{"domain":[0,100],"nice":false},"axis":{"values":[0,20,40,60,80,100]}}},
        "layer":[
         {"data":{"name":"zA1"},"mark":{"type":"rule","color":"#c4c4c4","strokeWidth":1.2},"encoding":{"y2":{"datum":0}}},
         {"data":{"values":[{"k":550,"v":0},{"k":610,"v":0}]},"mark":{"type":"line","color":"#b85c5c","strokeWidth":1}},
         {"data":{"values":[{"k":580.5,"v":105},{"k":591.5,"v":105}]},"mark":{"type":"line","color":"#bbbbbb","strokeDash":[7,7],"strokeWidth":1}},
         {"data":{"name":"zA1"},"mark":{"type":"point","shape":"circle","filled":true,"color":"#1f40ff","size":16,"opacity":1}},
         {"data":{"values":[{"k":587.9,"v":107}]},"mark":{"type":"point","shape":"M -0.3 -1 L 0.3 -1 L 0.3 0 L 0.7 0 L 0 1 L -0.7 0 L -0.3 0 Z","filled":true,"color":"#8b1a1a","size":289,"opacity":1}}
        ]},
       {"width":188,"height":180,
        "encoding":{"x":{"field":"k","type":"quantitative","title":null,"scale":{"domain":[1300,1360],"nice":false,"zero":false},"axis":{"values":[1300,1310,1320,1330,1340,1350,1360],"labelExpr":"datum.value % 20 == 0 ? datum.label : ''"}},
                    "y":{"field":"v","type":"quantitative","title":null,"scale":{"domain":[0,100],"nice":false},"axis":{"values":[0,20,40,60,80,100],"labels":false}}},
        "layer":[
         {"data":{"name":"zA2"},"mark":{"type":"rule","color":"#c4c4c4","strokeWidth":1.2},"encoding":{"y2":{"datum":0}}},
         {"data":{"values":[{"k":1300,"v":0},{"k":1360,"v":0}]},"mark":{"type":"line","color":"#b85c5c","strokeWidth":1}},
         {"data":{"values":[{"k":1330.5,"v":105},{"k":1341.5,"v":105}]},"mark":{"type":"line","color":"#bbbbbb","strokeDash":[7,7],"strokeWidth":1}},
         {"data":{"name":"zA2"},"mark":{"type":"point","shape":"circle","filled":true,"color":"#1f40ff","size":16,"opacity":1}},
         {"data":{"values":[{"k":1344.4,"v":92}]},"mark":{"type":"point","shape":"M -0.3 -1 L 0.3 -1 L 0.3 0 L 0.7 0 L 0 1 L -0.7 0 L -0.3 0 Z","filled":true,"color":"#8b1a1a","size":289,"opacity":1}}
        ]}
      ],"spacing":31,"bounds":"flush"}
    ],"spacing":247,"bounds":"flush"}
  ],"spacing":-1,"bounds":"flush"},
  {"vconcat":[
    {"width":1,"height":1,"data":{"values":[]},"mark":"point","view":{"stroke":null},"title":{"text":"B.","anchor":"start","frame":"group","fontSize":36,"fontWeight":"bold","color":"#000000","dx":-64,"offset":36}},
    {"vconcat":[
      {"hconcat":[
       {"width":191,"height":180,"title":{"text":"HiT Novᴿ","offset":0,"dx":23},
        "encoding":{"x":{"field":"k","type":"quantitative","title":null,"scale":{"domain":[0,1897],"nice":false,"zero":false},"axis":{"values":[0,500,1000,1500]}},
                    "y":{"field":"v","type":"quantitative","scale":{"domain":[0,100],"nice":false},"axis":{"values":[0,20,40,60,80,100],"title":"Percent NpNN donor-specific SNPs","titleFontSize":25,"titleX":-51,"titleY":236,"titleAngle":270,"titleAlign":"center","titleBaseline":"alphabetic"}}},
        "layer":[
         {"data":{"name":"ovB1"},"mark":{"type":"area","color":"#1f40ff"}},
         {"data":{"name":"spB1"},"mark":{"type":"rule","color":"#a8b4ff"},"encoding":{"y2":{"datum":0}}},
         {"data":{"values":[{"k":477,"v":0.9}]},"mark":{"type":"point","shape":"circle","size":484,"filled":false,"stroke":"#8b1a1a","strokeWidth":4,"opacity":1}}
        ]},
       {"width":192,"height":180,"title":{"text":"HiT Nalᴿ","offset":6,"dx":12},
        "encoding":{"x":{"field":"k","type":"quantitative","title":null,"scale":{"domain":[0,1905],"nice":false,"zero":false},"axis":{"values":[0,500,1000,1500]}},
                    "y":{"field":"v","type":"quantitative","title":null,"scale":{"domain":[0,100],"nice":false},"axis":{"values":[0,20,40,60,80,100],"labels":false}}},
        "layer":[
         {"data":{"name":"ovB2"},"mark":{"type":"area","color":"#1f40ff"}},
         {"data":{"name":"spB2"},"mark":{"type":"rule","color":"#a8b4ff"},"encoding":{"y2":{"datum":0}}},
         {"data":{"values":[{"k":1268,"v":0.9}]},"mark":{"type":"point","shape":"circle","size":484,"filled":false,"stroke":"#8b1a1a","strokeWidth":4,"opacity":1}}
        ]}
      ],"spacing":34,"bounds":"flush"},
      {"hconcat":[
       {"width":191,"height":181,
        "encoding":{"x":{"field":"k","type":"quantitative","scale":{"domain":[430,490],"nice":false,"zero":false},"axis":{"values":[430,440,450,460,470,480,490],"title":"HiT Recipient Genome Coordinate (kb)","titleFontSize":25,"titleX":194,"titleY":73,"titleAlign":"center","titleBaseline":"alphabetic"}},
                    "y":{"field":"v","type":"quantitative","title":null,"scale":{"domain":[0,100],"nice":false},"axis":{"values":[0,20,40,60,80,100]}}},
        "layer":[
         {"data":{"name":"zB1"},"mark":{"type":"rule","color":"#c4c4c4","strokeWidth":1.2},"encoding":{"y2":{"datum":0}}},
         {"data":{"values":[{"k":430,"v":0},{"k":490,"v":0}]},"mark":{"type":"line","color":"#b85c5c","strokeWidth":1}},
         {"data":{"name":"zB1"},"mark":{"type":"point","shape":"circle","filled":true,"color":"#1f40ff","size":16,"opacity":1}},
         {"data":{"values":[{"k":457,"v":101.7}]},"mark":{"type":"point","shape":"M -0.3 -1 L 0.3 -1 L 0.3 0 L 0.7 0 L 0 1 L -0.7 0 L -0.3 0 Z","filled":true,"color":"#8b1a1a","size":289,"opacity":1}}
        ]},
       {"width":208,"height":180,
        "encoding":{"x":{"field":"k","type":"quantitative","title":null,"scale":{"domain":[1232.5,1297.5],"nice":false,"zero":false},"axis":{"values":[1240,1250,1260,1270,1280,1290],"labelExpr":"datum.value % 20 == 0 ? datum.label : ''"}},
                    "y":{"field":"v","type":"quantitative","title":null,"scale":{"domain":[0,100],"nice":false},"axis":{"values":[0,20,40,60,80,100],"labels":false}}},
        "layer":[
         {"data":{"name":"zB2"},"mark":{"type":"rule","color":"#c4c4c4","strokeWidth":1.2},"encoding":{"y2":{"datum":0}}},
         {"data":{"values":[{"k":1232.5,"v":0},{"k":1297.5,"v":0}]},"mark":{"type":"line","color":"#b85c5c","strokeWidth":1}},
         {"data":{"name":"zB2"},"mark":{"type":"point","shape":"circle","filled":true,"color":"#1f40ff","size":16,"opacity":1}},
         {"data":{"values":[{"k":1274.3,"v":104}]},"mark":{"type":"point","shape":"M -0.3 -1 L 0.3 -1 L 0.3 0 L 0.7 0 L 0 1 L -0.7 0 L -0.3 0 Z","filled":true,"color":"#8b1a1a","size":289,"opacity":1}}
        ]}
      ],"spacing":29,"bounds":"flush"}
    ],"spacing":246,"bounds":"flush"}
  ],"spacing":9,"bounds":"flush"}
 ],"spacing":562,"bounds":"flush"},
 {"hconcat":[
  {"width":1,"height":1,"data":{"values":[]},"mark":"point","view":{"stroke":null}},
  {"vconcat":[
    {"width":671,"height":375,"view":{"stroke":"#444444","strokeWidth":1.3},
     "title":{"text":"C.","anchor":"start","frame":"group","fontSize":36,"fontWeight":"bold","color":"#000000","dx":-148,"offset":0,"dy":26},
     "layer":[
      {"data":{"name":"vio"},"mark":{"type":"area","orient":"horizontal","stroke":"#111111","strokeWidth":1.3,"opacity":1,"fillOpacity":1},
       "encoding":{"y":{"field":"f","type":"quantitative","scale":{"type":"log","domain":[0.00023,1.64],"nice":false},
                        "axis":{"values":[1,0.5,0.1,0.05,0.01,0.005,0.001,0.0005],"labelExpr":"datum.value >= 0.9 ? '1e+00' : datum.value >= 0.4 ? '5e-01' : datum.value >= 0.09 ? '1e-01' : datum.value >= 0.04 ? '5e-02' : datum.value >= 0.009 ? '1e-02' : datum.value >= 0.004 ? '5e-03' : datum.value >= 0.0009 ? '1e-03' : '5e-04'","tickSize":13,"labelPadding":14,"labelFontSize":17,"labelColor":"#222222","tickColor":"#333333","title":"Non-recipient allele frequency","titleFontSize":25,"titleX":-92,"titleY":214,"titleAngle":270,"titleAlign":"center","titleBaseline":"alphabetic"}},
                   "x":{"field":"x","type":"quantitative","stack":null,"scale":{"domain":[-0.329,8.329],"nice":false,"zero":false},
                        "axis":{"values":[1,2,3,4,5,6,7,8],"labelExpr":"['MAP7','RdS','RdS NalR','RdS NovR','Hi375','HiT','HiT NalR','HiT NovR'][datum.value-1]","labelAngle":270,"labelAlign":"right","labelBaseline":"middle","tickSize":13,"labelPadding":9,"labelFontSize":18.5,"labelColor":"#222222","tickColor":"#333333","title":null}},
                   "x2":{"field":"c"},
                   "color":{"field":"s","type":"nominal","scale":{"domain":["d","n"],"range":["#fa8072","#add8e6"]},"legend":null},
                   "detail":{"field":"g"}}},
      {"data":{"name":"tails"},"mark":{"type":"rule","color":"#111111","strokeWidth":1.3},
       "encoding":{"x":{"field":"c","type":"quantitative"},"y":{"field":"lo","type":"quantitative"},"y2":{"field":"hi"}}},
      {"data":{"values":[{"x":0.381,"f":0.00568,"t":"Donor|identity"},{"x":1.606,"f":0.00535,"t":"Novel|identity"}]},
       "mark":{"type":"text","lineBreak":"|","fontSize":20,"lineHeight":25,"baseline":"middle","align":"center","color":"#111111"},
       "encoding":{"x":{"field":"x","type":"quantitative"},"y":{"field":"f","type":"quantitative"},"text":{"field":"t"}}}
     ]},
    {"width":671,"height":40,"view":{"stroke":null},
     "layer":[
      {"data":{"name":"gbars"},"mark":{"type":"rule","color":"#000000","strokeWidth":6,"strokeCap":"butt"},
       "encoding":{"x":{"field":"a","type":"quantitative","scale":{"domain":[-0.329,8.329],"nice":false,"zero":false},"axis":null},"x2":{"field":"b"},"y":{"field":"y","type":"quantitative","scale":{"domain":[0,1],"nice":false},"axis":null}}},
      {"data":{"name":"glabels"},"mark":{"type":"text","fontSize":21,"color":"#111111","baseline":"alphabetic","align":"center"},
       "encoding":{"x":{"field":"x","type":"quantitative"},"y":{"field":"y","type":"quantitative"},"text":{"field":"t"}}}
     ]}
  ],"spacing":109,"bounds":"flush"}
 ],"spacing":155,"bounds":"flush"}
],
"spacing":601,
"bounds":"flush"
}
